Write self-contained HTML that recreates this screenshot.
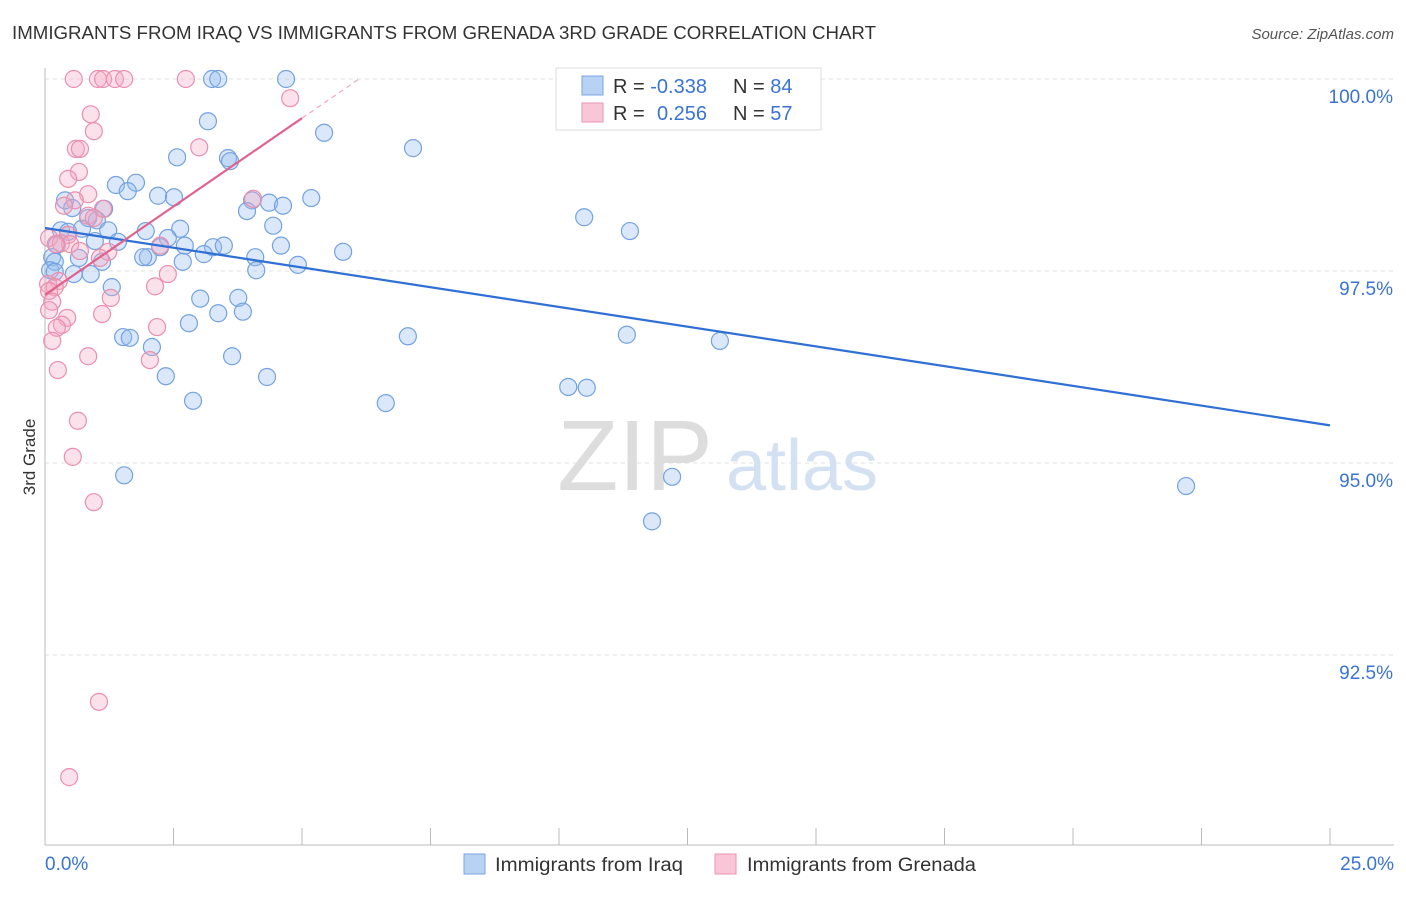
<!DOCTYPE html>
<html><head><meta charset="utf-8">
<style>
body{margin:0;background:#fff;font-family:"Liberation Sans",sans-serif;}
svg text{font-family:"Liberation Sans",sans-serif;}
</style></head>
<body>
<svg id="chart" width="1406" height="892" xmlns="http://www.w3.org/2000/svg">
<text x="12" y="39" font-size="18" fill="#333" textLength="864" lengthAdjust="spacingAndGlyphs">IMMIGRANTS FROM IRAQ VS IMMIGRANTS FROM GRENADA 3RD GRADE CORRELATION CHART</text>
<text x="1394" y="39" font-size="15" fill="#555" text-anchor="end" font-style="italic">Source: ZipAtlas.com</text>
<g id="grid"></g>
<g>
<text x="635" y="490" font-size="100" fill="#ddd" font-family="Liberation Serif, serif" text-anchor="middle">ZIP</text>
<text x="802" y="490" font-size="72" fill="#d4e1f3" text-anchor="middle">atlas</text>
</g>
<g id="points"></g>
<g id="lines"></g>
<text x="35" y="457" font-size="17" fill="#333" text-anchor="middle" transform="rotate(-90 35 457)">3rd Grade</text>
<g>
<rect x="556" y="68" width="265" height="62" fill="#fff" stroke="#ddd"/>
<rect x="582" y="76" width="21" height="19" fill="#b8d2f4" stroke="#7aa6e2"/>
<rect x="582" y="103" width="21" height="19" fill="#f8c6d6" stroke="#eb95b1"/>
<text x="613" y="93" font-size="20" fill="#333">R = <tspan fill="#3a74d2">-0.338</tspan></text>
<text x="733" y="93" font-size="20" fill="#333">N = <tspan fill="#3a74d2">84</tspan></text>
<text x="613" y="120" font-size="20" fill="#333">R = <tspan fill="#3a74d2" x="657">0.256</tspan></text>
<text x="733" y="120" font-size="20" fill="#333">N = <tspan fill="#3a74d2">57</tspan></text>
</g>
<g>
<rect x="464" y="854" width="21" height="20" fill="#b8d2f4" stroke="#7aa6e2"/>
<text x="495" y="871" font-size="19" fill="#333" textLength="188" lengthAdjust="spacingAndGlyphs">Immigrants from Iraq</text>
<rect x="715" y="854" width="21" height="20" fill="#f8c6d6" stroke="#eb95b1"/>
<text x="747" y="871" font-size="19" fill="#333" textLength="229" lengthAdjust="spacingAndGlyphs">Immigrants from Grenada</text>
</g>
</svg>
<script>
const xTicks=[0,2.5,5,7.5,10,12.5,15,17.5,20,22.5,25];
const yTicks=[100,97.5,95,92.5];
const yTickLabels=["100.0%","97.5%","95.0%","92.5%"];
const xTickLabels=["0.0%","25.0%"];
const iraqX=[3.25,3.37,4.69,14.07,3.17,5.43,7.16,2.57,3.56,3.60,1.38,1.77,1.61,2.20,2.51,5.18,4.03,4.36,4.63,0.39,0.53,1.15,3.93,10.49,0.84,1.01,4.44,11.38,2.63,1.96,0.31,0.45,0.72,1.23,1.42,0.97,0.23,2.39,2.72,3.27,3.48,3.09,2.24,2.00,1.91,4.09,4.59,5.80,2.68,4.92,0.14,0.19,0.66,1.11,0.10,0.19,0.56,0.89,4.11,1.30,3.02,3.76,3.37,3.85,2.80,1.52,1.65,7.06,11.32,13.13,2.08,3.64,2.35,4.32,10.18,10.54,2.88,6.63,1.54,12.20,22.20,11.81];
const iraqY=[100,100,100,100,99.45,99.30,99.10,98.98,98.97,98.93,98.62,98.65,98.54,98.48,98.46,98.45,98.42,98.39,98.35,98.42,98.32,98.31,98.28,98.20,98.19,98.16,98.09,98.02,98.05,98.02,98.03,98.01,98.05,98.03,97.88,97.89,97.84,97.93,97.83,97.81,97.83,97.72,97.81,97.68,97.68,97.68,97.83,97.75,97.62,97.58,97.68,97.62,97.67,97.62,97.51,97.49,97.46,97.46,97.51,97.29,97.14,97.15,96.95,96.97,96.82,96.64,96.63,96.65,96.67,96.59,96.51,96.39,96.13,96.12,95.99,95.98,95.81,95.78,94.84,94.82,94.70,94.24];
const grenX=[0.56,1.03,1.13,1.36,1.54,2.74,4.77,0.89,0.95,3.00,0.60,0.68,0.66,0.45,0.84,0.58,0.37,1.13,4.05,0.84,0.95,0.45,0.08,0.31,0.49,0.21,0.68,1.23,2.24,1.07,2.39,0.27,0.06,0.19,0.08,2.14,1.28,0.14,0.08,1.11,0.43,0.33,0.23,2.18,0.14,0.84,2.04,0.25,0.64,0.54,0.95,1.05,0.47];
const grenY=[100,100,100,100,100,100,99.75,99.54,99.32,99.11,99.09,99.09,98.79,98.70,98.50,98.42,98.35,98.31,98.44,98.22,98.19,97.97,97.93,97.86,97.85,97.85,97.76,97.75,97.83,97.67,97.46,97.37,97.33,97.29,97.24,97.30,97.15,97.10,96.99,96.94,96.89,96.80,96.76,96.77,96.59,96.39,96.34,96.21,95.55,95.08,94.49,91.89,90.91];
const iraqTrend=[98.06,95.49];
const grenTrend=[97.19,99.49];
const NS="http://www.w3.org/2000/svg";
const sx=v=>45+v*51.4;
const sy=v=>79+(100-v)*76.8;
function mk(t,a,p){const e=document.createElementNS(NS,t);for(const k in a)e.setAttribute(k,a[k]);p.appendChild(e);return e;}
const grid=document.getElementById('grid');
yTicks.forEach((t,i)=>{
 const l=mk('line',{x1:45,x2:1394,y1:sy(t),y2:sy(t),stroke:'#e2e2e2','stroke-dasharray':'4,4'},grid);
 
 
 const tx=mk('text',{x:1393,y:sy(t)+24,'font-size':19,fill:'#3a74d2','text-anchor':'end'},grid);
 tx.textContent=yTickLabels[i];
 
 
});
const ax=mk('line',{x1:45,x2:45,y1:68,y2:845,stroke:'#bbb'},grid);


const bx=mk('line',{x1:45,x2:1394,y1:845,y2:845,stroke:'#bbb'},grid);


xTicks.forEach(t=>{
 const l=mk('line',{x1:sx(t),x2:sx(t),y1:828,y2:845,stroke:'#bbb'},grid);
 
 
});
[[0,'start',45],[25,'end',1394]].forEach((d,i)=>{
 const tx=mk('text',{x:d[2],y:870,'font-size':19,fill:'#3a74d2','text-anchor':d[1]},grid);
 tx.textContent=xTickLabels[i];
 
 
});
const pts=document.getElementById('points');
iraqX.forEach((x,i)=>{
 const c=mk('circle',{cx:sx(x),cy:sy(iraqY[i]),r:8.5,fill:'rgba(150,188,238,0.35)',stroke:'#74a2e0','stroke-width':1.2},pts);
 
 
});
grenX.forEach((x,i)=>{
 const c=mk('circle',{cx:sx(x),cy:sy(grenY[i]),r:8.5,fill:'rgba(244,170,196,0.35)',stroke:'#ea8fad','stroke-width':1.2},pts);
 
 
});
const ln=document.getElementById('lines');
const l1=mk('line',{x1:sx(0),y1:sy(iraqTrend[0]),x2:sx(25),y2:sy(iraqTrend[1]),stroke:'#2f6fd6','stroke-width':2.2},ln);


const slope=(grenTrend[1]-grenTrend[0])/5;
const l2=mk('line',{x1:sx(0),y1:sy(grenTrend[0]),x2:sx(5),y2:sy(grenTrend[1]),stroke:'#e0638e','stroke-width':2.2},ln);


const l3=mk('line',{x1:sx(5),y1:sy(grenTrend[1]),x2:sx(6.1),y2:sy(grenTrend[0]+slope*6.1),stroke:'#f0a8c0','stroke-width':1.2,'stroke-dasharray':'5,4'},ln);


</script>
</body></html>
